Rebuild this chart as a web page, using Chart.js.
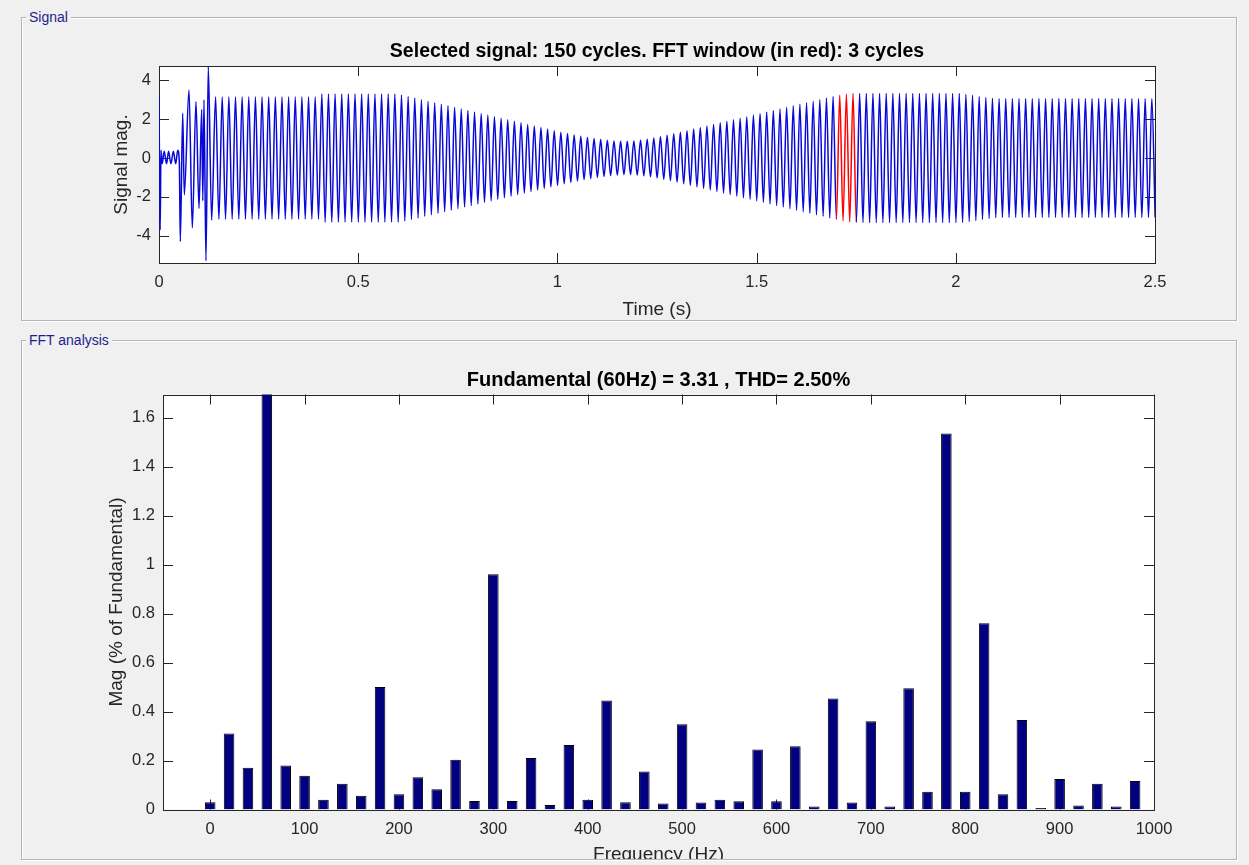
<!DOCTYPE html>
<html>
<head>
<meta charset="utf-8">
<title>FFT analysis</title>
<script src="https://cdn.jsdelivr.net/npm/chart.js@4.4.1/dist/chart.umd.min.js"></script>
<style>
  html, body { margin: 0; padding: 0; background: #f0f0f0; overflow: hidden; }
  body { width: 1249px; height: 865px; position: relative; font-family: "Liberation Sans", Arial, sans-serif; }
  .panel { position: absolute; left: 21px; width: 1214px; border: 1px solid #b4b4b4; box-shadow: inset 1px 1px 0 #fff, 1px 1px 0 #fff; }
  .panel span { position: absolute; left: 4px; top: -9px; padding: 0 3px; background: #f0f0f0; color: #1e1e8c; font-size: 14px; line-height: 16px; }
  #signalChart { position: absolute; left: 0; top: 0; }
  #fftWrap { position: absolute; left: 0; top: 330px; width: 1249px; height: 529px; overflow: hidden; }
  #fftChart { position: absolute; left: 0; top: 0; }
</style>
</head>
<body>
<div class="panel" style="top:17px;height:302px;"><span>Signal</span></div>
<div class="panel" style="top:340px;height:518px;"><span>FFT analysis</span></div>
<canvas id="signalChart" width="1249" height="321"></canvas>
<div id="fftWrap"><canvas id="fftChart" width="1249" height="545"></canvas></div>
<script>
// Signal: start-up transient, read point by point (time s, value)
const sigTransientT = [0, 0.003, 0.005, 0.008, 0.013, 0.019, 0.024, 0.030, 0.036, 0.042, 0.047, 0.051,
    0.0535, 0.0595, 0.0635, 0.0753, 0.0836, 0.0928, 0.1004, 0.1071, 0.110, 0.1129, 0.1179, 0.1237, 0.1322];
const sigTransientV = [3.2, -3.7, 0.4, -0.3, 0.35, -0.3, 0.35, -0.3, 0.35, -0.3, 0.4, -0.2,
    -4.3, 2.3, -1.9, 3.5, -3.6, 2.9, -2.6, 2.5, -2.2, 3.0, -5.3, 4.7, -3.2];

// Signal: peak amplitude of each 60 Hz cycle after the transient
const fundamentalHz = 60;
const cycleStart = 0.142;
const cycleAmp = [
    3.15, 3.15, 3.15, 3.15, 3.15, 3.15, 3.15, 3.15, 3.15, 3.15, 3.15, 3.15, 3.15, 3.15, 3.15, 3.15,
    3.3, 3.3, 3.3, 3.3, 3.3, 3.3, 3.3, 3.3, 3.3, 3.3, 3.3, 3.3,
    3.25, 3.17, 3.09, 3.01, 2.93, 2.85, 2.77, 2.69, 2.61, 2.53, 2.45, 2.37, 2.29, 2.21, 2.13, 2.05,
    1.97, 1.89, 1.81, 1.73, 1.65, 1.57, 1.49, 1.41, 1.33, 1.26, 1.19, 1.12, 1.06, 1.0, 0.95, 0.91, 0.88,
    0.86, 0.86, 0.88, 0.92, 0.97, 1.03, 1.1, 1.17, 1.25, 1.33, 1.41, 1.49, 1.57, 1.65, 1.73, 1.81,
    1.89, 1.97, 2.05, 2.13, 2.21, 2.29, 2.37, 2.45, 2.53, 2.61, 2.69, 2.77, 2.85, 2.93, 3.01, 3.09,
    3.17, 3.24, 3.29,
    3.32, 3.32, 3.32, 3.32, 3.32, 3.32, 3.32, 3.32, 3.32, 3.32, 3.32, 3.32, 3.32, 3.32, 3.32, 3.32, 3.32,
    3.28, 3.23, 3.17, 3.12, 3.08,
    3.07, 3.07, 3.07, 3.07, 3.07, 3.07, 3.07, 3.07, 3.07, 3.07, 3.07, 3.07,
    3.07, 3.07, 3.07, 3.07, 3.07, 3.07, 3.07, 3.07, 3.07, 3.07, 3.07, 3.07
];
const fftWindowStart = 1.70;
const fftWindowCycles = 3;
const sigXTicks = [0, 0.5, 1, 1.5, 2, 2.5];
const sigYTicks = [-4, -2, 0, 2, 4];

// FFT: harmonic magnitudes (% of fundamental)
const fftFreq = [0, 20, 40, 60, 80, 100, 120, 140, 160, 180, 200, 220, 240, 260, 280, 300, 320, 340, 360, 380,
    400, 420, 440, 460, 480, 500, 520, 540, 560, 580, 600, 620, 640, 660, 680, 700, 720, 740, 760, 780,
    800, 820, 840, 860, 880, 900, 920, 940, 960, 980];
const fftMag = [0.03, 0.31, 0.17, 100, 0.18, 0.138, 0.04, 0.105, 0.056, 0.50, 0.062, 0.132, 0.083, 0.203, 0.035, 0.96, 0.035, 0.21, 0.018, 0.263,
    0.04, 0.445, 0.03, 0.155, 0.024, 0.348, 0.029, 0.04, 0.034, 0.245, 0.034, 0.258, 0.012, 0.453, 0.029, 0.36, 0.012, 0.495, 0.072, 1.535,
    0.072, 0.76, 0.062, 0.365, 0.006, 0.125, 0.016, 0.105, 0.012, 0.116];
const fftXTicks = [0, 100, 200, 300, 400, 500, 600, 700, 800, 900, 1000];
const fftYTicks = [0, 0.2, 0.4, 0.6, 0.8, 1, 1.2, 1.4, 1.6];

const FONT = '"Liberation Sans", Arial, sans-serif';
const AXIS_COLOR = '#262626';

// white axes background, box and inward ticks on all four sides (MATLAB look)
const matlabAxes = {
    id: 'matlabAxes',
    beforeDraw(chart) {
        const a = chart.chartArea, ctx = chart.ctx;
        ctx.save();
        ctx.fillStyle = '#ffffff';
        ctx.fillRect(a.left, a.top, a.right - a.left, a.bottom - a.top);
        ctx.restore();
    },
    beforeDatasetsDraw(chart) {
        const a = chart.chartArea, ctx = chart.ctx;
        const len = 10;
        ctx.save();
        ctx.strokeStyle = AXIS_COLOR;
        ctx.lineWidth = 1;
        ctx.beginPath();
        chart.scales.x.ticks.forEach(t => {
            const px = Math.round(chart.scales.x.getPixelForValue(t.value)) + 0.5;
            ctx.moveTo(px, a.bottom); ctx.lineTo(px, a.bottom - len);
            ctx.moveTo(px, a.top); ctx.lineTo(px, a.top + len);
        });
        chart.scales.y.ticks.forEach(t => {
            const py = Math.round(chart.scales.y.getPixelForValue(t.value)) + 0.5;
            ctx.moveTo(a.left, py); ctx.lineTo(a.left + len, py);
            ctx.moveTo(a.right, py); ctx.lineTo(a.right - len, py);
        });
        ctx.stroke();
        ctx.strokeRect(Math.round(a.left) + 0.5, Math.round(a.top) + 0.5,
            Math.round(a.right - a.left), Math.round(a.bottom - a.top));
        ctx.restore();
    }
};

function fixedTicks(values) {
    return scale => { scale.ticks = values.map(v => ({ value: v })); };
}

// Signal chart
const sigPoints = [];
sigTransientT.forEach((t, i) => sigPoints.push({ x: t, y: sigTransientV[i] }));
cycleAmp.forEach((amp, k) => {
    const tp = cycleStart + k / fundamentalHz;
    sigPoints.push({ x: tp, y: amp });
    sigPoints.push({ x: tp + 0.5 / fundamentalHz, y: -amp });
});
const fftWindowEnd = fftWindowStart + fftWindowCycles / fundamentalHz;
const inWindow = x => x >= fftWindowStart - 0.001 && x <= fftWindowEnd + 0.001;

new Chart(document.getElementById('signalChart'), {
    type: 'line',
    data: {
        datasets: [{
            data: sigPoints,
            borderColor: '#0808d8',
            borderWidth: 1.5,
            pointRadius: 0,
            cubicInterpolationMode: 'monotone',
            clip: 0,
            // FFT window drawn in red
            segment: {
                borderColor: c => inWindow(c.p0.parsed.x) && inWindow(c.p1.parsed.x) ? '#ff0000' : '#0808d8'
            }
        }]
    },
    plugins: [matlabAxes],
    options: {
        responsive: false,
        animation: false,
        events: [],
        layout: { padding: { left: 0, right: 94, top: 0, bottom: 0 } },
        plugins: {
            legend: { display: false },
            tooltip: { enabled: false },
            title: {
                display: true,
                fullSize: false,
                text: 'Selected signal: 150 cycles. FFT window (in red): 3 cycles',
                color: '#000',
                font: { family: FONT, size: 19.5, weight: 'bold' },
                padding: { top: 40, bottom: 2.6 }
            }
        },
        scales: {
            x: {
                type: 'linear',
                min: 0, max: 2.5,
                afterBuildTicks: fixedTicks(sigXTicks),
                afterFit: s => { s.height = 58; },
                grid: { display: false, drawTicks: false },
                border: { display: false },
                ticks: { color: AXIS_COLOR, padding: 10, maxRotation: 0, font: { family: FONT, size: 16.5 }, callback: v => String(v) },
                title: { display: true, text: 'Time (s)', color: AXIS_COLOR, font: { family: FONT, size: 19 }, padding: { top: 0, bottom: 0 } }
            },
            y: {
                min: -5.41, max: 4.74,
                afterBuildTicks: fixedTicks(sigYTicks),
                afterFit: s => { s.width = 159; },
                grid: { display: false, drawTicks: false },
                border: { display: false },
                ticks: { color: AXIS_COLOR, padding: 8, font: { family: FONT, size: 16.5 }, callback: v => String(v) },
                title: { display: true, text: 'Signal mag.', color: AXIS_COLOR, font: { family: FONT, size: 19 }, padding: { top: 110, bottom: 0 } }
            }
        }
    }
});

// FFT chart
new Chart(document.getElementById('fftChart'), {
    type: 'bar',
    data: {
        datasets: [{
            data: fftFreq.map((f, i) => ({ x: f, y: fftMag[i] })),
            backgroundColor: '#000080',
            borderColor: '#000000',
            borderWidth: 1,
            barPercentage: 0.56,
            categoryPercentage: 1,
            clip: 0
        }]
    },
    plugins: [matlabAxes],
    options: {
        responsive: false,
        animation: false,
        events: [],
        layout: { padding: { left: 0, right: 95, top: 0, bottom: 0 } },
        plugins: {
            legend: { display: false },
            tooltip: { enabled: false },
            title: {
                display: true,
                fullSize: false,
                text: 'Fundamental (60Hz) = 3.31 , THD= 2.50%',
                color: '#000',
                font: { family: FONT, size: 20, weight: 'bold' },
                padding: { top: 38.7, bottom: 1.8 }
            }
        },
        scales: {
            x: {
                type: 'linear',
                offset: false,
                min: -50, max: 1000,
                afterBuildTicks: fixedTicks(fftXTicks),
                afterFit: s => { s.height = 65.5; },
                grid: { display: false, drawTicks: false },
                border: { display: false },
                ticks: { color: AXIS_COLOR, padding: 10, maxRotation: 0, font: { family: FONT, size: 16.5 }, callback: v => String(v) },
                title: { display: true, text: 'Frequency (Hz)', color: AXIS_COLOR, font: { family: FONT, size: 19 }, padding: { top: 0, bottom: 8.6 } }
            },
            y: {
                min: 0, max: 1.694,
                afterBuildTicks: fixedTicks(fftYTicks),
                afterFit: s => { s.width = 163; },
                grid: { display: false, drawTicks: false },
                border: { display: false },
                ticks: { color: AXIS_COLOR, padding: 8, font: { family: FONT, size: 16.5 }, callback: v => String(v) },
                title: { display: true, text: 'Mag (% of Fundamental)', color: AXIS_COLOR, font: { family: FONT, size: 19 }, padding: { top: 105.6, bottom: 0 } }
            }
        }
    }
});
</script>
</body>
</html>
